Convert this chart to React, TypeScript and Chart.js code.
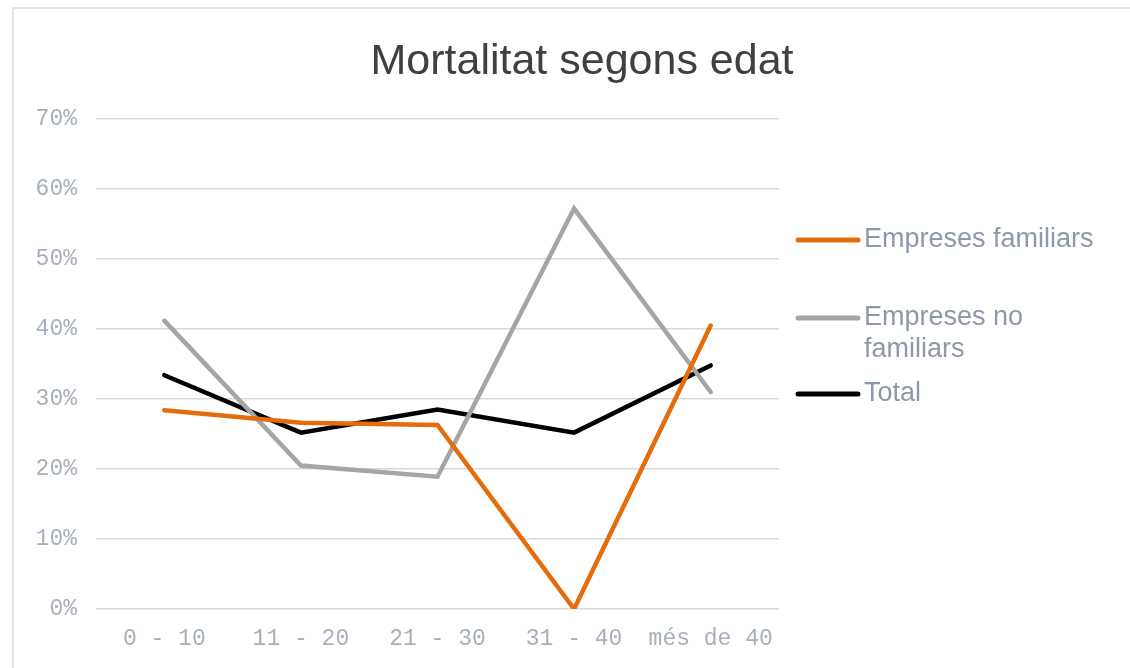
import React, { useEffect, useRef } from "react";
import { Chart, registerables } from "chart.js";

Chart.register(...registerables);

const title = "Mortalitat segons edat";
const categories = ["0 - 10", "11 - 20", "21 - 30", "31 - 40", "més de 40"];
const familiars = [28.4, 26.6, 26.3, 0, 40.5];
const noFamiliars = [41.2, 20.5, 18.9, 57.2, 31.0];
const total = [33.4, 25.2, 28.5, 25.2, 34.8];
const seriesLabels: string[][] = [["Empreses familiars"], ["Empreses no", "familiars"], ["Total"]];
const yTicks = [0, 10, 20, 30, 40, 50, 60, 70];

const ORANGE = "#E46C0A";
const GRAY = "#A5A5A5";
const BLACK = "#000000";
const TICK_COLOR = "#A8AFBC";
const LEGEND_COLOR = "#8E98AB";

const customPlugin = {
  id: "customTitleLegend",
  afterDraw(chart: any) {
    const ctx = chart.ctx;
    ctx.save();
    // title
    ctx.fillStyle = "#404040";
    ctx.font = "43px 'Liberation Sans', Arial, sans-serif";
    ctx.textAlign = "center";
    ctx.textBaseline = "alphabetic";
    ctx.fillText(title, 582, 74);
    // legend
    const ys = [240, 318, 394];
    chart.data.datasets.forEach((ds: any, i: number) => {
      const y = ys[i];
      ctx.strokeStyle = ds.borderColor;
      ctx.lineWidth = 5;
      ctx.lineCap = "round";
      ctx.beginPath();
      ctx.moveTo(798, y);
      ctx.lineTo(858, y);
      ctx.stroke();
      ctx.fillStyle = LEGEND_COLOR;
      ctx.font = "27px 'Liberation Sans', Arial, sans-serif";
      ctx.textAlign = "left";
      ctx.textBaseline = "middle";
      const lines: string[] = seriesLabels[i];
      lines.forEach((t, j) => ctx.fillText(t, 864, y + j * 32));
    });
    ctx.restore();
  },
};

export default function App() {
  const ref = useRef<HTMLCanvasElement>(null);
  useEffect(() => {
    document.body.style.margin = "0";
    const chart = new Chart(ref.current!, {
      type: "line",
      data: {
        labels: categories,
        datasets: [
          { label: seriesLabels[0].join(" "), data: familiars, borderColor: ORANGE, backgroundColor: ORANGE },
          { label: seriesLabels[1].join(" "), data: noFamiliars, borderColor: GRAY, backgroundColor: GRAY },
          { label: seriesLabels[2].join(" "), data: total, borderColor: BLACK, backgroundColor: BLACK },
        ].map((d) => ({ ...d, borderWidth: 4.5, pointRadius: 0, tension: 0, borderCapStyle: "round" as const, borderJoinStyle: "miter" as const })),
      },
      options: {
        animation: false,
        responsive: false,
        maintainAspectRatio: false,
        layout: { padding: { top: 119, left: 0, right: 351, bottom: 0 } },
        plugins: { legend: { display: false }, title: { display: false }, tooltip: { enabled: false } },
        scales: {
          x: {
            offset: true,
            grid: { display: false, drawTicks: false },
            border: { display: false },
            ticks: {
              color: TICK_COLOR,
              font: { family: "'Liberation Mono', monospace", size: 23 },
              padding: 16,
              maxRotation: 0,
              autoSkip: false,
            },
            afterFit: (s: any) => { s.height = 59; },
          },
          y: {
            min: 0,
            max: 70,
            afterBuildTicks: (s: any) => { s.ticks = yTicks.map((v) => ({ value: v })); },
            grid: { color: "#D9D9D9", lineWidth: 1.5, drawTicks: false },
            border: { display: false },
            ticks: {
              color: TICK_COLOR,
              font: { family: "'Liberation Mono', monospace", size: 23 },
              padding: 19,
              callback: (v: any) => v + "%",
            },
            afterFit: (s: any) => { s.width = 96; },
          },
        },
      },
      plugins: [customPlugin],
    });
    return () => chart.destroy();
  }, []);
  return (
    <div style={{ position: "fixed", left: 0, top: 0, width: 1130, height: 668, overflow: "hidden", background: "#fff" }}>
      <div style={{ position: "absolute", left: 12, top: 7, width: 1200, height: 800, border: "2px solid #E3E3E3" }} />
      <canvas ref={ref} width={1130} height={668} style={{ position: "absolute", left: 0, top: 0 }} />
    </div>
  );
}
